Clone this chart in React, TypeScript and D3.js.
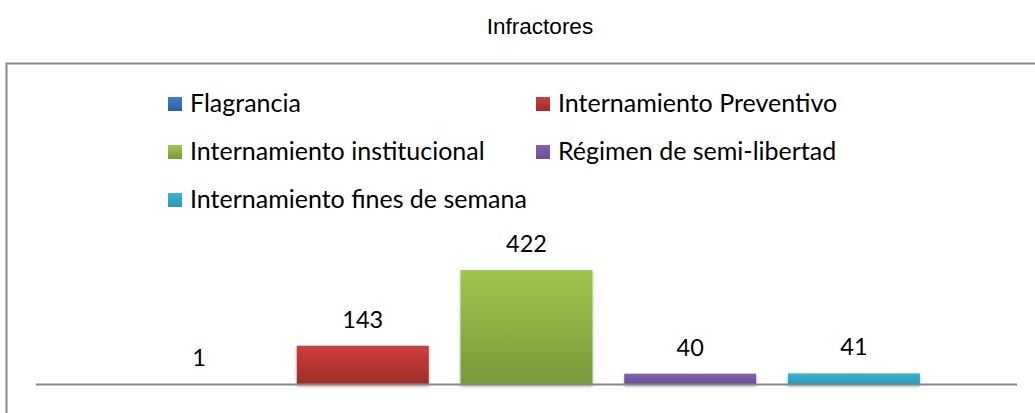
import React from 'react';
import * as d3 from 'd3';

const title = 'Infractores';
const seriesNames = [
  'Flagrancia',
  'Internamiento Preventivo',
  'Internamiento institucional',
  'Régimen de semi-libertad',
  'Internamiento fines de semana',
];
const seriesValues = [1, 143, 422, 40, 41];
// top / bottom colour of each bar's gradient
const topColors = ['#3f80cf', '#d03e3b', '#a0c64d', '#8461b0', '#33b6d6'];
const bottomColors = ['#2e5f9e', '#9d2d2a', '#789a3a', '#6a4f8e', '#2c98b3'];

const W = 1035;
const H = 413;

const App: React.FC = () => {
  const x = d3
    .scaleBand<string>()
    .domain(seriesNames)
    .range([36, 1017])
    .paddingInner(0.194)
    .paddingOuter(0.593);

  const y = d3.scaleLinear().domain([0, 450]).range([384.5, 262.4]);

  const font = 'Lato, "Open Sans", sans-serif';
  const legendCols = [168, 536];
  const legendRows = [112, 160, 208];

  return (
    <svg
      width={W}
      height={H}
      style={{ position: 'absolute', left: 0, top: 0, background: '#fff' }}
    >
      <defs>
        {seriesNames.map((s, i) => (
          <linearGradient key={s} id={`g${i}`} x1="0" y1="0" x2="0" y2="1">
            <stop offset="0%" stopColor={topColors[i]} />
            <stop offset="100%" stopColor={bottomColors[i]} />
          </linearGradient>
        ))}
        <filter id="shadow" x="-10%" y="-10%" width="120%" height="150%">
          <feDropShadow dx="0" dy="2" stdDeviation="1.5" floodColor="#000" floodOpacity="0.3" />
        </filter>
      </defs>

      <text
        x={540}
        y={34}
        textAnchor="middle"
        fontFamily='"Liberation Sans", Arial, sans-serif'
        fontSize={22.5}
        fill="#000"
      >
        {title}
      </text>

      <rect x={6.5} y={63.5} width={1100} height={400} fill="none" stroke="#878787" strokeWidth={2} />

      {/* legend */}
      {seriesNames.map((s, i) => {
        const cx = legendCols[i % 2];
        const cy = legendRows[Math.floor(i / 2)];
        return (
          <g key={s}>
            <rect x={cx} y={cy - 15} width={14} height={14} fill={`url(#g${i})`} />
            <text x={cx + 22} y={cy} fontFamily={font} fontSize={25} fill="#000">
              {s}
            </text>
          </g>
        );
      })}

      {/* bars */}
      {seriesNames.map((s, i) => (
        <rect
          key={s}
          x={x(s)}
          y={y(seriesValues[i])}
          width={x.bandwidth()}
          height={y(0) - y(seriesValues[i])}
          fill={`url(#g${i})`}
          filter="url(#shadow)"
        />
      ))}

      <line x1={36} x2={1017} y1={384.5} y2={384.5} stroke="#878787" strokeWidth={2} />

      {seriesNames.map((s, i) => (
        <text
          key={s}
          x={(x(s) ?? 0) + x.bandwidth() / 2}
          y={y(seriesValues[i]) - 18}
          textAnchor="middle"
          fontFamily={font}
          fontSize={23.5}
          fill="#000"
        >
          {seriesValues[i]}
        </text>
      ))}
    </svg>
  );
};

export default App;
